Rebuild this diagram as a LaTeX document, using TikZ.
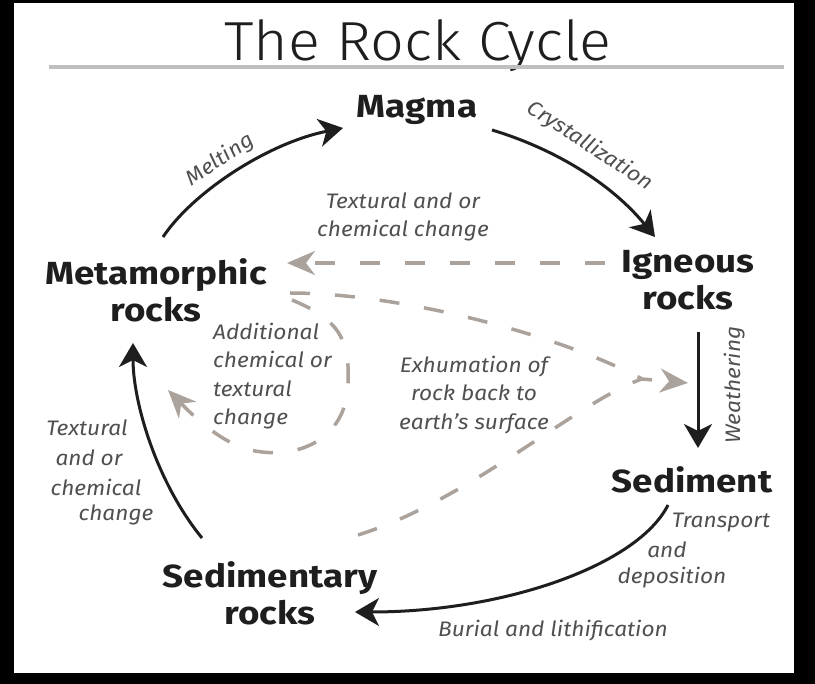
\documentclass[tikz,border=0pt]{standalone}
\usepackage{fontspec}
\setmainfont{Fira Sans}
\newfontfamily\titlefont{Fira Sans Light}[FakeStretch=1.08]
\newfontfamily\rockfont{Fira Sans}[FakeStretch=1.15]
\newfontfamily\procfont{Fira Sans}[FakeStretch=1.08]
\usetikzlibrary{arrows.meta}
\definecolor{inkc}{HTML}{1E1E1E}
\definecolor{chgc}{HTML}{ABA29C}
\definecolor{labc}{HTML}{505050}
\tikzset{
	rock/.style={font=\rockfont\fontsize{32}{37}\selectfont\bfseries, text=inkc, align=center, inner sep=0pt},
	proc/.style={font=\procfont\fontsize{21}{28.5}\selectfont\itshape, text=labc, inner sep=0pt},
	cyc/.style={draw=inkc, line width=3pt, -{Stealth[length=24pt,width=28pt,inset=7pt]}},
	chg/.style={draw=chgc, line width=3.5pt, dash pattern=on 20pt off 25pt, -{Stealth[length=28pt,width=24pt,inset=9pt]}}
}
\begin{document}
\begin{tikzpicture}[x=1pt, y=-1pt]
	\fill[black] (0,0) rectangle (815,684);
	\fill[white] (14,3) rectangle (794,673);
	\node[font=\titlefont\fontsize{55}{60}\selectfont, text=inkc, anchor=base, inner sep=0pt] (title) at (418,61) {The Rock Cycle};
	\draw[line width=4pt, gray!50] (49,67) -- (784,67);
	% rocks
	\node[rock, anchor=base] (magma) at (417,118) {Magma};
	\node[rock] (met) at (156,290) {Metamorphic\\rocks};
	\node[rock] (ign) at (688,280) {Igneous\\rocks};
	\node[rock, anchor=base] (sed) at (692,493) {Sediment};
	\node[rock] (sedr) at (270,593) {Sedimentary\\rocks};
	\coordinate (exh) at (688,383);
	\coordinate (exhj) at (642,379);
	% main cycle
	\draw[cyc] ([shift={(7,-53)}]met.center) .. controls +(30,-45) and +(-75,15) .. ([shift={(-74,10)}]magma.base);
	\draw[cyc] ([shift={(75,12)}]magma.base) .. controls +(60,18) and +(-45,-55) .. ([shift={(-33,-43)}]ign.center);
	\draw[cyc] ([shift={(10,52)}]ign.center) -- ([shift={(6,-45)}]sed.base);
	\draw[cyc] ([shift={(-24,12)}]sed.base) .. controls +(-30,60) and +(150,0) .. ([shift={(85,19)}]sedr.center);
	\draw[cyc] ([shift={(-68,-55)}]sedr.center) .. controls +(-45,-55) and +(0,60) .. ([shift={(-23,53)}]met.center);
	% changes
	\draw[chg] ([shift={(-83,-17)}]ign.center) -- ([shift={(131,-27)}]met.center);
	\draw[chg, -] ([shift={(134,3)}]met.center) .. controls +(110,0) and +(-82,-44) .. (exhj);
	\draw[chg] ([shift={(88,-58)}]sedr.center) .. controls +(112,-35) and +(-62,21) .. (exhj) -- (exh);
	\draw[chg] ([shift={(136,10)}]met.center) .. controls (340,320) and (350,340) .. (348,385) .. controls (346,435) and (305,457) .. (262,452) .. controls (232,449) and (205,428) .. ([shift={(12,100)}]met.center);
	% labels
	\node[proc, rotate=34] (melt) at (220,160) {Melting};
	\node[proc, rotate=-33] (cryst) at (590,146) {Crystallization};
	\node[proc, rotate=90] (weath) at (735,385) {Weathering};
	\node[proc, anchor=base] (burial) at (553,637) {Burial and lithification};
	\node[proc, align=center] (tchg) at (403,217) {Textural and or\\chemical change};
	\node[proc, align=left, anchor=west] (addc) at (213,376) {Additional\\chemical or\\textural\\change};
	\node[proc, align=center] (exht) at (474,395) {Exhumation of\\rock back to\\earth’s surface};
	\node[proc] (tr1) at (721,523) {Transport};
	\node[proc] (tr2) at (667,550) {and};
	\node[proc] (tr3) at (672,578) {deposition};
	\node[proc] (tx1) at (87,428) {Textural};
	\node[proc] (tx2) at (89,458) {and or};
	\node[proc] (tx3) at (96,487) {chemical};
	\node[proc] (tx4) at (116,515) {change};
\end{tikzpicture}
\end{document}
